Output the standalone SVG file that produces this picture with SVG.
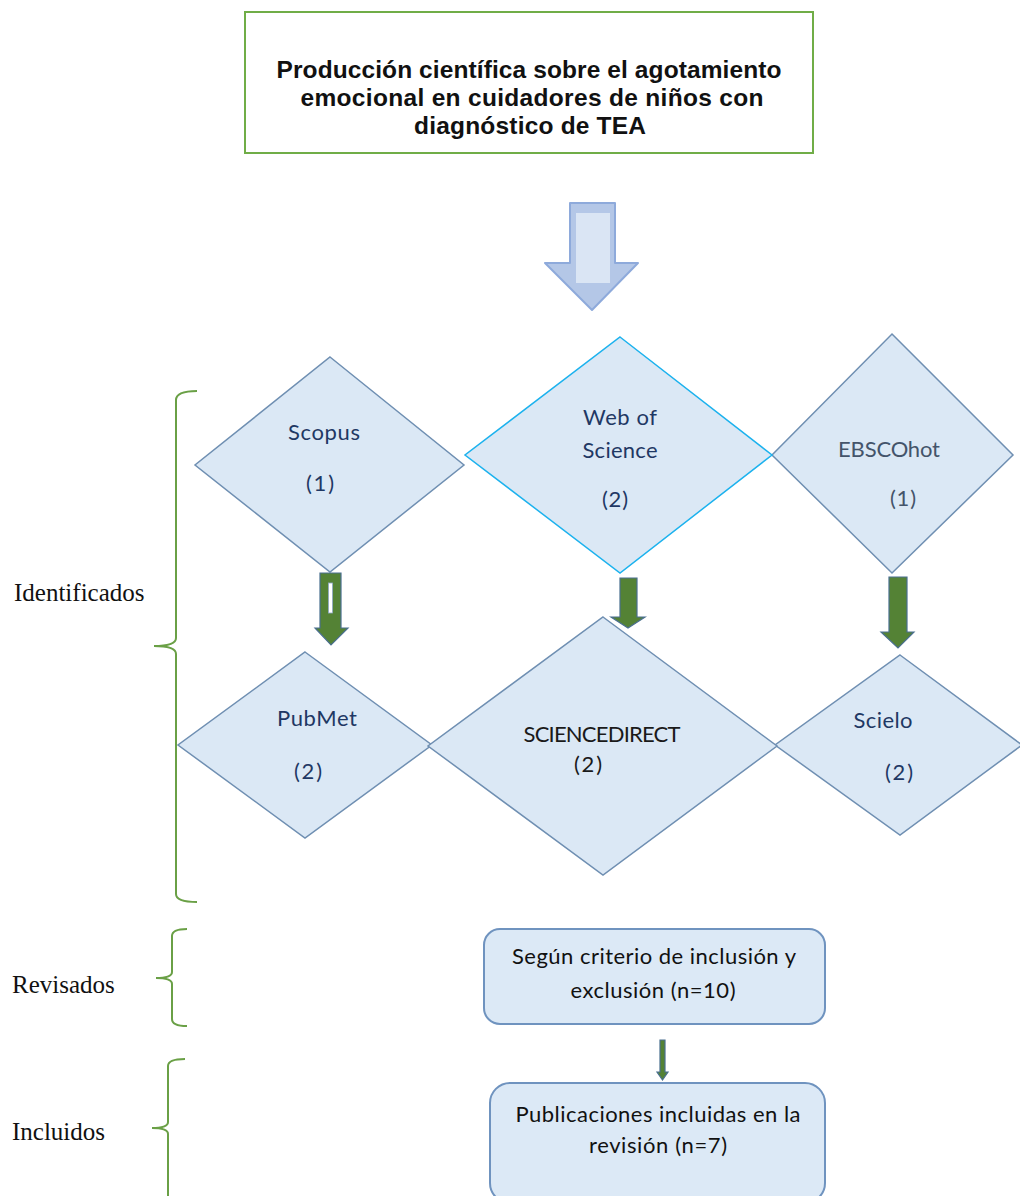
<svg xmlns="http://www.w3.org/2000/svg" width="1020" height="1196" viewBox="0 0 1020 1196">
<style>
.dia{fill:#dbe8f5;stroke:#6f8fb2;stroke-width:1.5}
.wos{fill:#dbe8f5;stroke:#1cb2ee;stroke-width:1.5}
.lbl{font-family:Lato,"Liberation Sans",sans-serif;font-size:22px;fill:#1f3864;text-anchor:middle}
.grey{fill:#44546a}
.blk{fill:#1a1a1a}
.title{font-family:"Liberation Sans",Arial,sans-serif;font-weight:bold;font-size:24.5px;fill:#111;text-anchor:middle}
.side{font-family:"Liberation Serif","Times New Roman",serif;font-size:25px;fill:#111}
.brace{fill:none;stroke:#6aa046;stroke-width:2}
.garrow{fill:#548235;stroke:#4a6f8f;stroke-width:1.2}
.rbox{fill:#dce9f6;stroke:#6f93bf;stroke-width:2}
.btxt{font-family:Lato,"Liberation Sans",sans-serif;font-size:22px;fill:#111;text-anchor:middle}
</style>

<g id="title">
<rect x="245" y="12" width="568" height="141" fill="#ffffff" stroke="#70ad47" stroke-width="2"/>
<text class="title" x="529" y="78" textLength="505">Producción científica sobre el agotamiento</text>
<text class="title" x="532" y="106" textLength="463">emocional en cuidadores de niños con</text>
<text class="title" x="530" y="134" textLength="232">diagnóstico de TEA</text>
</g>

<g id="scopus">
<polygon class="dia" points="330,357 464,465 330,572 195,465"/>
<text class="lbl" x="324" y="440" textLength="72">Scopus</text>
<text class="lbl" x="320" y="491" textLength="28">(1)</text>
</g>

<g id="ebsco">
<polygon class="dia" points="892,334 1013,455 892,573 772,455"/>
<text class="lbl grey" x="889" y="457" textLength="102">EBSCOhot</text>
<text class="lbl grey" x="903" y="506" textLength="26">(1)</text>
</g>

<g id="wos">
<polygon class="wos" points="620,337 772,455 620,573 465,455"/>
<text class="lbl" x="620" y="425" textLength="74">Web of</text>
<text class="lbl" x="620" y="458" textLength="75">Science</text>
<text class="lbl" x="615" y="507" textLength="26">(2)</text>
</g>

<g id="pubmet">
<polygon class="dia" points="305,652 432,745 305,838 178,745"/>
<text class="lbl" x="317" y="726" textLength="80">PubMet</text>
<text class="lbl" x="308" y="779" textLength="28">(2)</text>
</g>

<g id="scielo">
<polygon class="dia" points="900,655 1022,745 900,835 775,745"/>
<text class="lbl" x="883" y="728" textLength="59">Scielo</text>
<text class="lbl" x="899" y="780" textLength="28">(2)</text>
</g>

<g id="sciencedirect">
<polygon class="dia" points="603,617 777,746 603,875 428,746"/>
<text class="lbl blk" x="602" y="742" textLength="157">SCIENCEDIRECT</text>
<text class="lbl blk" x="588" y="772" textLength="28">(2)</text>
</g>

<g id="identificados">
<path class="brace" d="M197,391 Q176,391 176,400 L176,638 Q176,646 154,646 Q176,646 176,654 L176,894 Q176,902 197,902"/>
<text class="side" x="14" y="601">Identificados</text>
</g>

<g id="revisados">
<path class="brace" d="M187,929 Q172,929 172,936 L172,972 Q172,978 156,978 Q172,978 172,984 L172,1019 Q172,1026 187,1026"/>
<text class="side" x="12" y="993">Revisados</text>
</g>

<g id="incluidos">
<path class="brace" d="M185,1059 Q168,1059 168,1066 L168,1122 Q168,1128 152,1128 Q168,1128 168,1134 L168,1200"/>
<text class="side" x="12" y="1140">Incluidos</text>
</g>

<g id="criterio">
<rect class="rbox" x="484" y="929" width="341" height="95" rx="16"/>
<text class="btxt" x="654" y="964" textLength="284">Según criterio de inclusión y</text>
<text class="btxt" x="653" y="998" textLength="165">exclusión (n=10)</text>
</g>

<g id="incluidas">
<rect class="rbox" x="490" y="1083" width="335" height="120" rx="20"/>
<text class="btxt" x="658" y="1122" textLength="285">Publicaciones incluidas en la</text>
<text class="btxt" x="658" y="1153" textLength="138">revisión (n=7)</text>
</g>

<g id="connectors">
<g id="big-arrow">
<polygon points="570,203 615,203 615,263 638,263 592,310 545,263 570,263" fill="#b4c7e7" stroke="#8eaadb" stroke-width="2" stroke-linejoin="round"/>
<rect x="576" y="213" width="34" height="70" fill="#dae5f4"/>
</g>
<g id="a1">
<polygon class="garrow" points="320,573 341,573 341,628 348,628 331,645 315,628 320,628"/>
<rect x="328.5" y="583" width="4" height="30" fill="#ffffff" stroke="#8fa9c8" stroke-width="0.8"/>
</g>
<polygon id="a2" class="garrow" points="620,578 637,578 637,617 645,617 628,628 611,617 620,617"/>
<polygon id="a3" class="garrow" points="889,577 907,577 907,632 914,632 898,648 881,632 889,632"/>
<polygon id="a4" class="garrow" points="660,1040 665,1040 665,1072 668,1072 662.5,1080 657,1072 660,1072"/>
</g>
</svg>
